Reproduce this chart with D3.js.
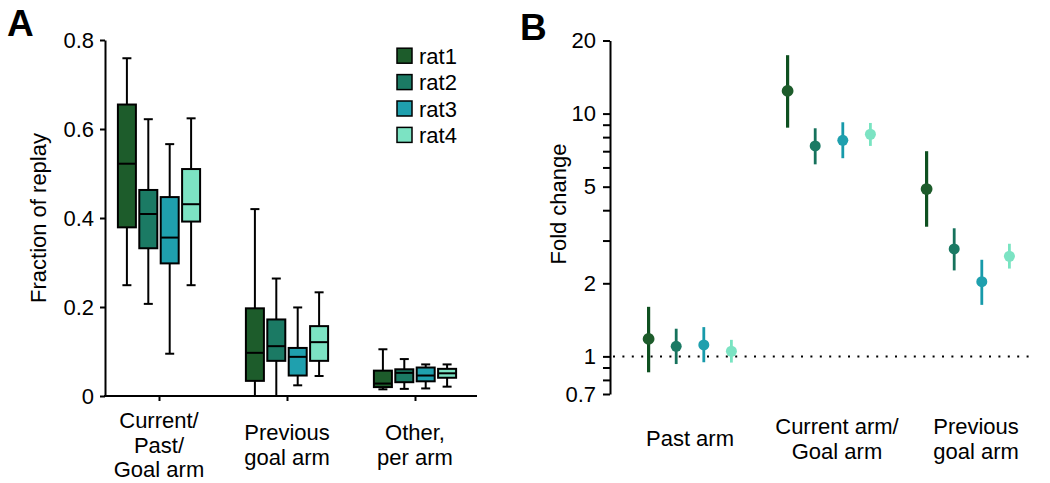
<!DOCTYPE html>
<html><head><meta charset="utf-8">
<script src="https://cdn.jsdelivr.net/npm/d3@7"></script>
<style>
body{margin:0;background:#fff;}
svg{display:block;font-family:"Liberation Sans",Arial,Helvetica,sans-serif;}
</style></head>
<body>
<svg id="chart" width="1050" height="483"></svg>
<script>
// ---------- data ----------
const rats = ["rat1","rat2","rat3","rat4"];
const ratColors = ["#1d5c2b","#1b7a64","#1fa0ae","#7ce3c3"];
const ratLineColors = ["#0e5020","#16725c","#179aaa","#78e4c1"];

// Panel A: box plots (fraction of replay)
const catsA = ["Current/\nPast/\nGoal arm","Previous\ngoal arm","Other,\nper arm"];
// per category, per rat: [whiskerLow, q1, median, q3, whiskerHigh]
const boxCurrent  = [[0.249,0.379,0.522,0.655,0.759],[0.207,0.332,0.409,0.463,0.622],[0.095,0.298,0.356,0.447,0.566],[0.249,0.392,0.431,0.510,0.624]];
const boxPrevious = [[0.000,0.034,0.097,0.197,0.420],[0.000,0.079,0.112,0.172,0.264],[0.024,0.046,0.088,0.108,0.199],[0.045,0.079,0.121,0.157,0.233]];
const boxOther    = [[0.015,0.020,0.028,0.057,0.105],[0.016,0.031,0.052,0.060,0.083],[0.017,0.033,0.046,0.064,0.071],[0.021,0.041,0.051,0.061,0.071]];
const boxData = [boxCurrent, boxPrevious, boxOther];
const yTicksA = [0,0.2,0.4,0.6,0.8];

// Panel B: fold change, point + interval (log scale)
const catsB = ["Past arm","Current arm/\nGoal arm","Previous\ngoal arm"];
const foldMid  = [[1.18,1.10,1.115,1.05],[12.4,7.36,7.76,8.22],[4.89,2.77,2.03,2.585]];
const foldLow  = [[0.86,0.93,0.946,0.943],[8.75,6.18,6.55,7.36],[3.42,2.26,1.63,2.30]];
const foldHigh = [[1.60,1.30,1.32,1.17],[17.4,8.70,9.21,9.15],[7.0,3.37,2.50,2.91]];
const yTickValsB = [0.7,0.8,0.9,1,2,3,4,5,6,7,8,9,10,20];
const yTickLabelsB = [0.7,1,2,5,10,20];

// ---------- drawing ----------
const svg = d3.select("#chart");
const FS = 22;
const LH = 24.7;

// multi-line label centred vertically on a given middle baseline
function multiline(g, x, yMid, label) {
  const parts = label.split("\n");
  const y0 = yMid - (parts.length-1)*LH/2;
  parts.forEach((s,i) => g.append("text").attr("x",x).attr("y",y0+i*LH)
    .attr("text-anchor","middle").attr("font-size",FS).text(s));
}

// ===== Panel A =====
const gA = svg.append("g");
const yA = d3.scaleLinear().domain([0,0.8]).range([396,40]);
const xA = d3.scalePoint().domain(catsA).range([159,415]);
const innerA = d3.scalePoint().domain(rats).range([-32.1,32.1]);
const axisLeftA = 105, axisRightA = 477;

gA.append("g").attr("transform",`translate(${axisLeftA},0)`)
  .call(d3.axisLeft(yA).tickValues(yTicksA).tickSize(5).tickSizeOuter(0).tickPadding(6)
    .tickFormat(d => d===0 ? "0" : d3.format(".1f")(d)))
  .call(g => {
    g.selectAll("text").attr("font-size",FS).attr("fill","#000").attr("font-family",null);
    g.selectAll("line,path").attr("stroke","#000").attr("stroke-width",2);
  });
gA.append("g").attr("transform",`translate(0,${yA(0)})`)
  .call(d3.axisBottom(xA).tickSize(5).tickSizeOuter(0).tickFormat(""))
  .call(g => {
    g.select(".domain").remove();
    g.selectAll("line").attr("stroke","#000").attr("stroke-width",2);
  });
gA.append("line").attr("x1",axisLeftA-1).attr("x2",axisRightA).attr("y1",yA(0)).attr("y2",yA(0))
  .attr("stroke","#000").attr("stroke-width",2);

const boxW = 18, capW = 9;
catsA.forEach((c,ci) => {
  rats.forEach((r,ri) => {
    const [lo,q1,md,q3,hi] = boxData[ci][ri];
    const cx = xA(c) + innerA(r);
    const g = gA.append("g");
    g.append("line").attr("x1",cx).attr("x2",cx).attr("y1",yA(lo)).attr("y2",yA(hi))
      .attr("stroke","#000").attr("stroke-width",2);
    [lo,hi].forEach(v => g.append("line").attr("x1",cx-capW/2).attr("x2",cx+capW/2)
      .attr("y1",yA(v)).attr("y2",yA(v)).attr("stroke","#000").attr("stroke-width",2));
    g.append("rect").attr("x",cx-boxW/2).attr("width",boxW).attr("y",yA(q3)).attr("height",yA(q1)-yA(q3))
      .attr("fill",ratColors[ri]).attr("stroke","#000").attr("stroke-width",2);
    g.append("line").attr("x1",cx-boxW/2).attr("x2",cx+boxW/2).attr("y1",yA(md)).attr("y2",yA(md))
      .attr("stroke","#000").attr("stroke-width",2);
  });
  multiline(gA, xA(c), 452.5, c);
});

gA.append("text").attr("transform","translate(46,218) rotate(-90)").attr("text-anchor","middle")
  .attr("font-size",FS).text("Fraction of replay");
gA.append("text").attr("x",7).attr("y",36).attr("font-size",37).attr("font-weight","bold").text("A");

// legend
const leg = gA.append("g");
rats.forEach((r,i) => {
  const cy = 55.7 + i*26.4;
  leg.append("rect").attr("x",397).attr("y",cy-7.5).attr("width",15).attr("height",15)
    .attr("fill",ratColors[i]).attr("stroke","#000").attr("stroke-width",1.5);
  leg.append("text").attr("x",419).attr("y",cy+8).attr("font-size",FS).text(r);
});

// ===== Panel B =====
const gB = svg.append("g");
const yB = d3.scaleLog().domain([0.7,20]).range([394,40.5]);
const xB = d3.scaleBand().domain(catsB).range([620.5,1037.5]);
const innerB = d3.scalePoint().domain(rats).range([-41.4,41.4]);
const axisLeftB = 610;
const labelDx = [0,8,8];

gB.append("g").attr("transform",`translate(${axisLeftB},0)`)
  .call(d3.axisLeft(yB).tickValues(yTickValsB).tickSize(7).tickSizeOuter(0).tickPadding(7)
    .tickFormat(d => yTickLabelsB.includes(d) ? String(d) : ""))
  .call(g => {
    g.selectAll("text").attr("font-size",FS).attr("fill","#000").attr("font-family",null);
    g.selectAll("line,path").attr("stroke","#000").attr("stroke-width",2);
  });

gB.append("line").attr("x1",axisLeftB+3).attr("x2",1035).attr("y1",yB(1)).attr("y2",yB(1))
  .attr("stroke","#000").attr("stroke-width",2).attr("stroke-dasharray","2,7.4");

catsB.forEach((c,ci) => {
  rats.forEach((r,ri) => {
    const cx = xB(c) + xB.bandwidth()/2 + innerB(r);
    gB.append("line").attr("x1",cx).attr("x2",cx).attr("y1",yB(foldLow[ci][ri])).attr("y2",yB(foldHigh[ci][ri]))
      .attr("stroke",ratLineColors[ri]).attr("stroke-width",ri===0 ? 3.2 : 2.8);
    gB.append("circle").attr("cx",cx).attr("cy",yB(foldMid[ci][ri])).attr("r",ri===0 ? 5.9 : 5.5)
      .attr("fill",ratColors[ri]);
  });
  multiline(gB, xB(c)+xB.bandwidth()/2+labelDx[ci], 446.3, c);
});

gB.append("text").attr("transform","translate(566,204) rotate(-90)").attr("text-anchor","middle")
  .attr("font-size",FS).text("Fold change");
gB.append("text").attr("x",520).attr("y",40).attr("font-size",37).attr("font-weight","bold").text("B");
</script>
</body></html>
